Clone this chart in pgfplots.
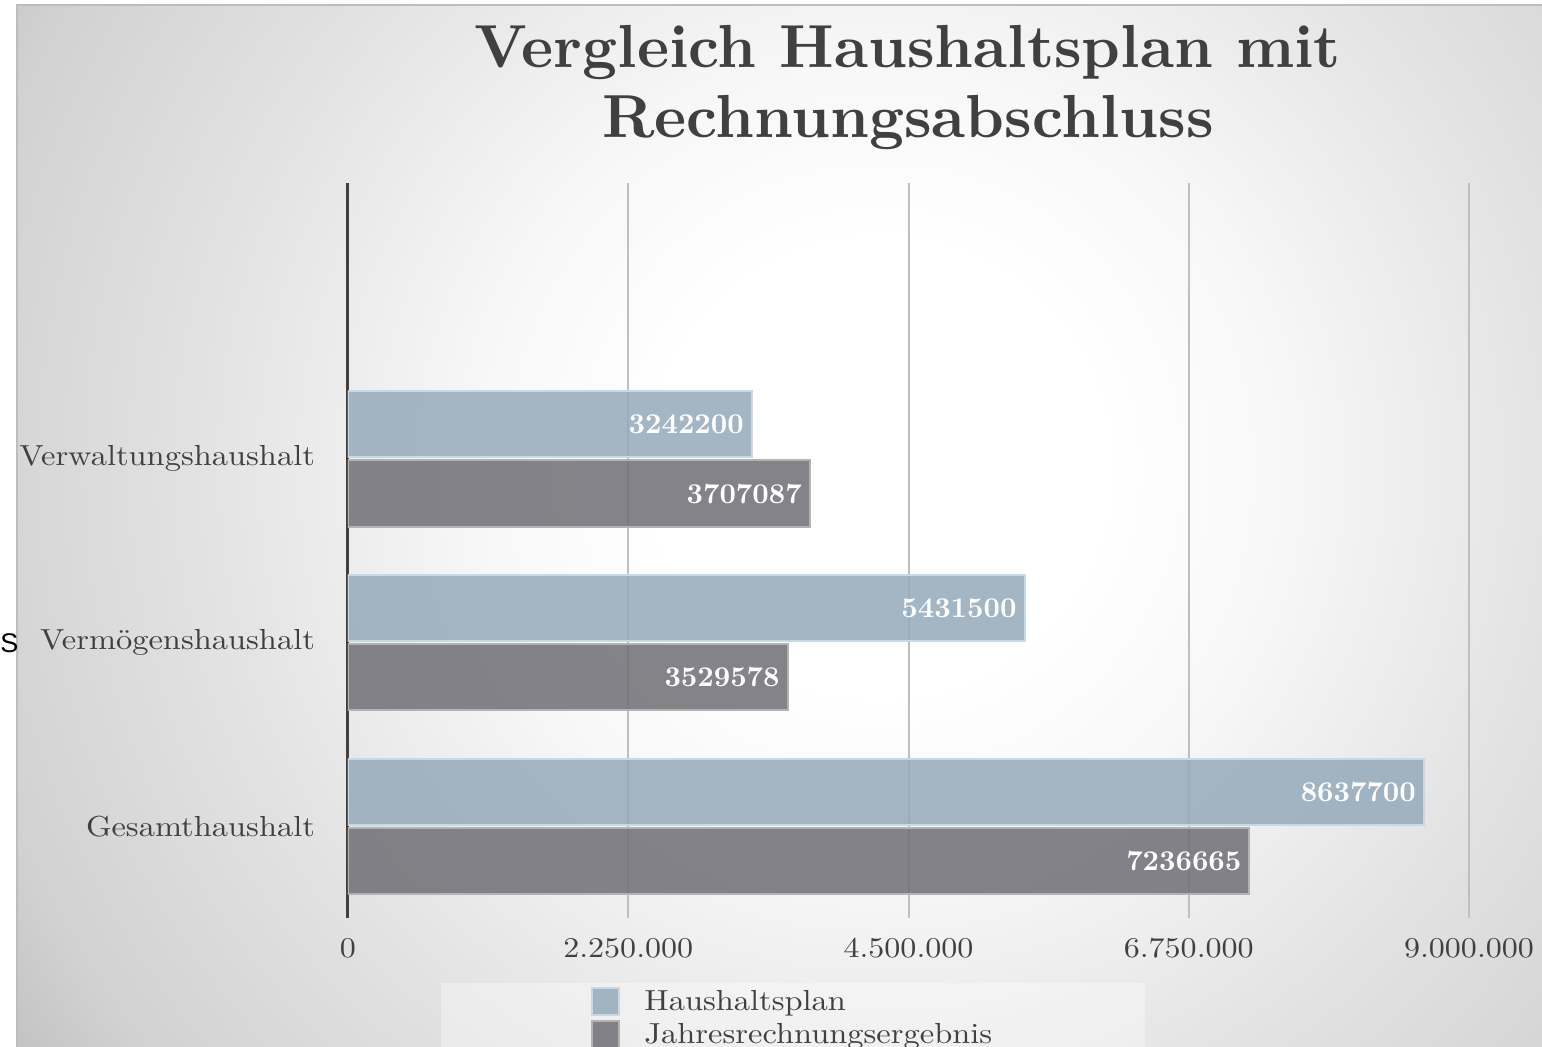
\documentclass[border=0pt]{standalone}
\usepackage{fontspec}
\setmainfont{lmroman10-regular.otf}[BoldFont=lmroman10-bold.otf]
\newfontfamily\wide{lmroman10-regular.otf}[BoldFont=lmroman10-bold.otf, FakeStretch=1.12]
\newfontfamily\arialish{Liberation Sans}
\usepackage{pgfplots}
\pgfplotsset{compat=1.18}
\definecolor{txt}{HTML}{404040}
\definecolor{planfill}{HTML}{95AABA}
\definecolor{plandraw}{HTML}{CBD8E2}
\definecolor{jrfill}{HTML}{6F6E75}
\definecolor{jrdraw}{HTML}{B3B3B3}
\definecolor{gridc}{HTML}{BFBFBF}
\definecolor{edge}{HTML}{BDBDBD}
\pgfdeclareradialshading{panelbg}{\pgfpoint{0bp}{0bp}}{color(0bp)=(white); color(5bp)=(white); color(9bp)=(black!3); color(15bp)=(black!11); color(21bp)=(black!18); color(23bp)=(black!23); color(25bp)=(black!25); color(50bp)=(black!25)}
\begin{document}
\begin{tikzpicture}
\path[use as bounding box] (0,0) rectangle (771pt,523.5pt);
\clip (0,0) rectangle (771pt,523.5pt);
\fill[white] (0,0) rectangle (771pt,523.5pt);
\begin{scope}
\clip (8.5pt,-5pt) rectangle (780pt,521pt);
\shade[shading=panelbg] (440pt,290pt) circle (560pt);
\end{scope}
\draw[edge, line width=1pt] (8.5pt,-5pt) -- (8.5pt,521pt) -- (780pt,521pt);
\fill[white, opacity=0.35] (220.5pt,-5pt) rectangle (572.5pt,32pt);
\node[anchor=base, text=txt, font=\fontsize{30.4}{36}\selectfont\bfseries] at (454pt,489.5pt) {Vergleich Haushaltsplan mit};
\node[anchor=base, text=txt, font=\fontsize{30.4}{36}\selectfont\bfseries] at (454pt,454.5pt) {Rechnungsabschluss};
\node[anchor=base west, inner sep=0pt, font=\fontsize{13.5}{16}\selectfont\arialish, text=black] at (0pt,197pt) {S};
\begin{axis}[
  at={(174pt,64.5pt)}, anchor=south west,
  scale only axis, width=560.5pt, height=367.5pt,
  xbar, bar width=0.36,
  xmin=0, xmax=9000000, ymin=-0.5, ymax=3.5,
  xtick={0,2250000,4500000,6750000,9000000},
  scaled x ticks=false,
  x tick label style={/pgf/number format/fixed, /pgf/number format/1000 sep={.}, /pgf/number format/assume math mode=true},
  ytick={0,1,2},
  yticklabels={Gesamthaushalt,Vermögenshaushalt,Verwaltungshaushalt},
  major tick length=0pt,
  xticklabel style={text=txt, font=\fontsize{14.3}{17}\selectfont\wide, yshift=-6.5pt},
  yticklabel style={text=txt, font=\fontsize{14.5}{17}\selectfont\wide, xshift=-13pt},
  axis x line*=bottom, x axis line style={draw=none},
  axis y line*=left, y axis line style={draw=txt, line width=1.5pt},
  xmajorgrids, major grid style={gridc, line width=1pt},
  point meta=explicit symbolic,
  nodes near coords,
  every node near coord/.append style={anchor=east, text=white, text opacity=1, inner sep=2pt, font=\fontsize{14.3}{17}\selectfont\bfseries, xshift=-1.5pt},
  legend style={at={(0.083,-0.0884)}, anchor=north west, draw=none, fill=none,
     inner xsep=75pt, inner ysep=2pt, font=\fontsize{14.5}{17}\selectfont\wide, text=txt, row sep=2pt,
     nodes={inner sep=1pt},
     /tikz/every odd column/.append style={column sep=11pt}},
  legend cell align=left,
  legend image code/.code={\draw[#1, line width=1pt] (0pt,-6.75pt) rectangle (13.5pt,6.75pt);},
]
\addplot[fill=planfill, draw=plandraw, fill opacity=0.85, line width=1pt, bar shift=0.187] coordinates {(3242200,2) [3242200] (5431500,1) [5431500] (8637700,0) [8637700]};
\addlegendentry{Haushaltsplan}
\addplot[fill=jrfill, draw=jrdraw, fill opacity=0.85, line width=1pt, bar shift=-0.19] coordinates {(3707087,2) [3707087] (3529578,1) [3529578] (7236665,0) [7236665]};
\addlegendentry{Jahresrechnungsergebnis}
\end{axis}
\end{tikzpicture}
\end{document}
